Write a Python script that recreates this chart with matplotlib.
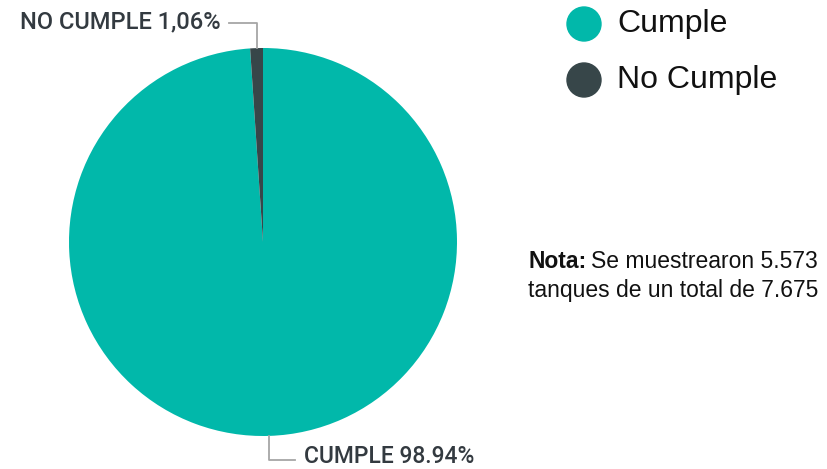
import numpy as np
import matplotlib
matplotlib.use("Agg")
import matplotlib.pyplot as plt

categorias = ["Cumple", "No Cumple"]
porcentajes = [98.94, 1.06]
etiquetas = ["CUMPLE 98.94%", "NO CUMPLE 1,06%"]
colores = ["#01B8AA", "#374649"]
nota_negrita = "Nota:"
nota_texto = "Se muestrearon 5.573\ntanques de un total de 7.675"

W, H = 827, 469
fig = plt.figure(figsize=(W / 100, H / 100), dpi=100)

# pie axes placed in pixel units
cx, cy, r = 263, 242, 194
ax = fig.add_axes([(cx - r) / W, (H - cy - r) / H, 2 * r / W, 2 * r / H])
wedges, _ = ax.pie(porcentajes, colors=colores, startangle=90, counterclock=False,
                   radius=1, wedgeprops=dict(linewidth=0))
ax.set_xlim(-1, 1)
ax.set_ylim(-1, 1)
ax.set_aspect("equal")
ax.axis("off")


def py(y):
    # pixel row (from top) -> data y
    return (cy - y) / r


label_font = ["Roboto", "DejaVu Sans"]
line_col = "#a6a6a6"

# leader lines + labels
for w, lab in zip(wedges, etiquetas):
    ang = np.deg2rad((w.theta1 + w.theta2) / 2)
    x0, y0 = np.cos(ang), np.sin(ang)
    if y0 > 0:
        yline = py(23)
        xend = x0 - 28 / r
        ax.plot([x0, x0, xend], [y0, yline, yline], color=line_col, lw=1.3, clip_on=False)
        ax.text(xend - 8 / r, py(22), lab, ha="right", va="center", fontsize=17,
                color="#333a40", family=label_font, weight="medium", clip_on=False)
    else:
        yline = py(460)
        xend = x0 + 26 / r
        ax.plot([x0, x0, xend], [y0, yline, yline], color=line_col, lw=1.3, clip_on=False)
        ax.text(xend + 9 / r, py(456), lab, ha="left", va="center", fontsize=16.5,
                color="#333a40", family=label_font, weight="medium", clip_on=False)

# legend with circles
leg_y = [24, 80]
for cat, col, ly in zip(categorias, colores, leg_y):
    fig.patches.append(matplotlib.patches.Ellipse((584 / W, (H - ly) / H), 34 / W, 34 / H,
                                                  transform=fig.transFigure, color=col))
    fig.text(617 / W, (H - ly) / H, cat, ha="left", va="center", fontsize=23,
             family="Liberation Sans", color="#111111")

# note
t = fig.text(528 / W, (H - 262) / H, nota_negrita, ha="left", va="center", fontsize=16.5,
             family="Liberation Sans", weight="bold", color="#111111")
fig.canvas.draw()
bb = t.get_window_extent()
fig.text(bb.x1 / W + 5 / W, (H - 262) / H, nota_texto.split("\n")[0], ha="left", va="center",
         fontsize=16.5, family="Liberation Sans", color="#111111")
fig.text(528 / W, (H - 291) / H, nota_texto.split("\n")[1], ha="left", va="center",
         fontsize=16.5, family="Liberation Sans", color="#111111")

fig.savefig("out.png", dpi=100)
